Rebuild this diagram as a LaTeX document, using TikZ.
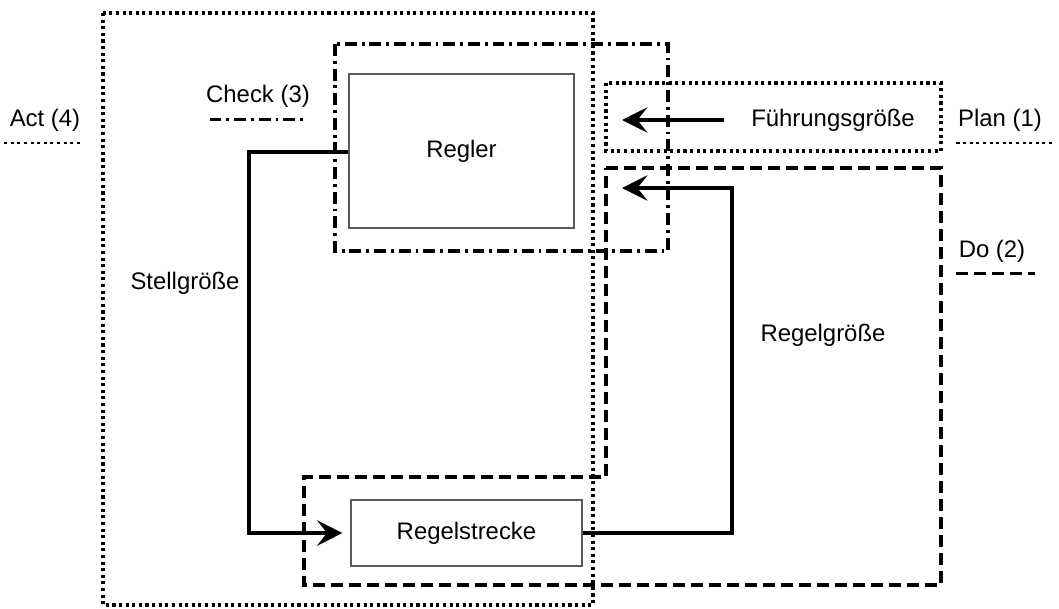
\documentclass[tikz,border=0pt]{standalone}
\usepackage{fontspec}
\setmainfont{Liberation Sans}
\usetikzlibrary{arrows.meta, positioning, calc}

\tikzset{
  pdca dot/.style={line width=2.4pt, dash pattern=on 2.2pt off 2.5pt},
  pdca dash/.style={line width=2.2pt, dash pattern=on 8.5pt off 4.3pt},
  pdca dashdot/.style={line width=2.2pt, dash pattern=on 8.5pt off 3.5pt on 2pt off 3.5pt},
  block/.style={draw=black!65, line width=0.8pt, inner sep=0pt},
  signal/.style={line width=2.5pt, -{Stealth[length=18pt, width=18pt, inset=7pt]}},
  lbl/.style={inner sep=1pt, font=\fontsize{17}{20}\selectfont}
}

\begin{document}
\begin{tikzpicture}[x=0.025cm, y=-0.025cm]
\useasboundingbox (0,0) rectangle (1059,608);

% Phase frames
\draw[pdca dot] (103,13) rectangle (593,605);
\draw[pdca dashdot] (335,44) rectangle (668,251);
\draw[pdca dot] (606,83) rectangle (941,151);
\draw[pdca dash] (606,168) -- (941,168) -- (941,585) -- (304,585) -- (304,477) -- (606,477) -- cycle;

% Blocks
\node (regler) [block, minimum width=225*0.025cm, minimum height=154*0.025cm] at (461.5,151) {};
\node [lbl] at (regler) {Regler};
\node (strecke) [block, minimum width=231*0.025cm, minimum height=66*0.025cm] at (466.5,533) {};
\node [lbl] at (strecke) {Regelstrecke};

% Signal labels
\node (fg) [lbl] at (833,120) {Führungsgröße};
\node (sg) [lbl] at (185,283) {Stellgröße};
\node (rg) [lbl] at (823,335) {Regelgröße};

% Phase labels
\node (act) [lbl] at (45,120) {Act (4)};
\node (check) [lbl] at (258,96) {Check (3)};
\node (plan) [lbl] at (1000,120) {Plan (1)};
\node (do) [lbl] at (992,251) {Do (2)};
\draw[pdca dot, line width=1.8pt] ($(act.south west)+(-4,10)$) -- ($(act.south east)+(-2,10)$);
\draw[pdca dashdot] ($(check.south west)+(5,11)$) -- ($(check.south east)+(-6,11)$);
\draw[pdca dot, line width=1.8pt] ($(plan.south west)+(0,10)$) -- ($(plan.south east)+(8,10)$);
\draw[pdca dash] ($(do.south west)+(-1,10)$) -- ($(do.south east)+(8,10)$);

% Arrows
\coordinate (fgtip) at (622,120);
\coordinate (rgtip) at (622,188);
\coordinate (rgcorner) at (732,533);
\draw[signal] ($(fg.west)+(-26,0)$) -- (fgtip);
\draw[signal, shorten >=8*0.025cm] (regler.west |- 0,152) -- (249,152) |- (strecke.west);
\draw[signal] (strecke.east) -- (rgcorner) |- (rgtip);
\end{tikzpicture}
\end{document}
